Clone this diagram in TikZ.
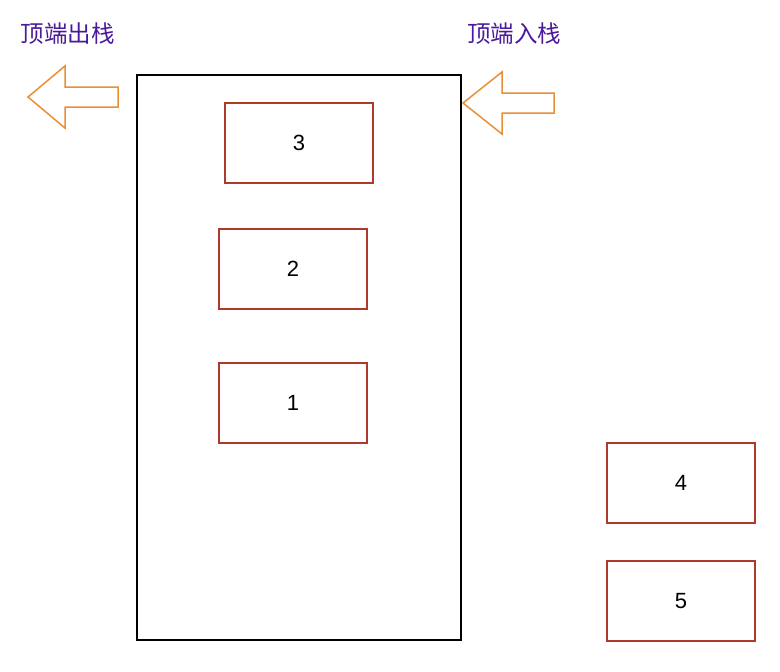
\documentclass[tikz,border=0pt]{standalone}
\usepackage{fontspec}
\setmainfont{Liberation Sans}
\newfontfamily\cjk{Noto Sans CJK SC}
\definecolor{boxred}{HTML}{AE3A2C}
\definecolor{arrorange}{HTML}{EA8F35}
\definecolor{labpurple}{HTML}{4A1A9A}
\begin{document}
\begin{tikzpicture}[x=1pt,y=-1pt,
  item/.style={draw=boxred,line width=1.5pt,minimum width=148pt,minimum height=80pt,inner sep=0pt,font=\fontsize{22}{26}\selectfont},
  lab/.style={text=labpurple,font=\cjk\fontsize{23.5}{26}\selectfont,inner sep=0pt},
  bigarrow/.style={draw=arrorange,line width=1.5pt,line join=miter}]
\useasboundingbox (0,0) rectangle (780,672);
\node[draw=black,line width=1.5pt,minimum width=324pt,minimum height=565pt,inner sep=0pt] (stack) at (299,357.5) {};
\node[item] (b3) at (299,143) {3};
\node[item] (b2) at (293,269) {2};
\node[item] (b1) at (293,403) {1};
\node[item] (b4) at (681,483) {4};
\node[item] (b5) at (681,601) {5};
\node[lab] (lout) at (67.5,34) {顶端出栈};
\node[lab] (lin) at (514,34) {顶端入栈};
\draw[bigarrow] (28,97) -- (65,66) -- (65,87) -- (118,87) -- (118,107) -- (65,107) -- (65,128) -- cycle;
\draw[bigarrow] (463,103) -- (502,72) -- (502,93) -- (554,93) -- (554,113) -- (502,113) -- (502,134) -- cycle;
\end{tikzpicture}
\end{document}
